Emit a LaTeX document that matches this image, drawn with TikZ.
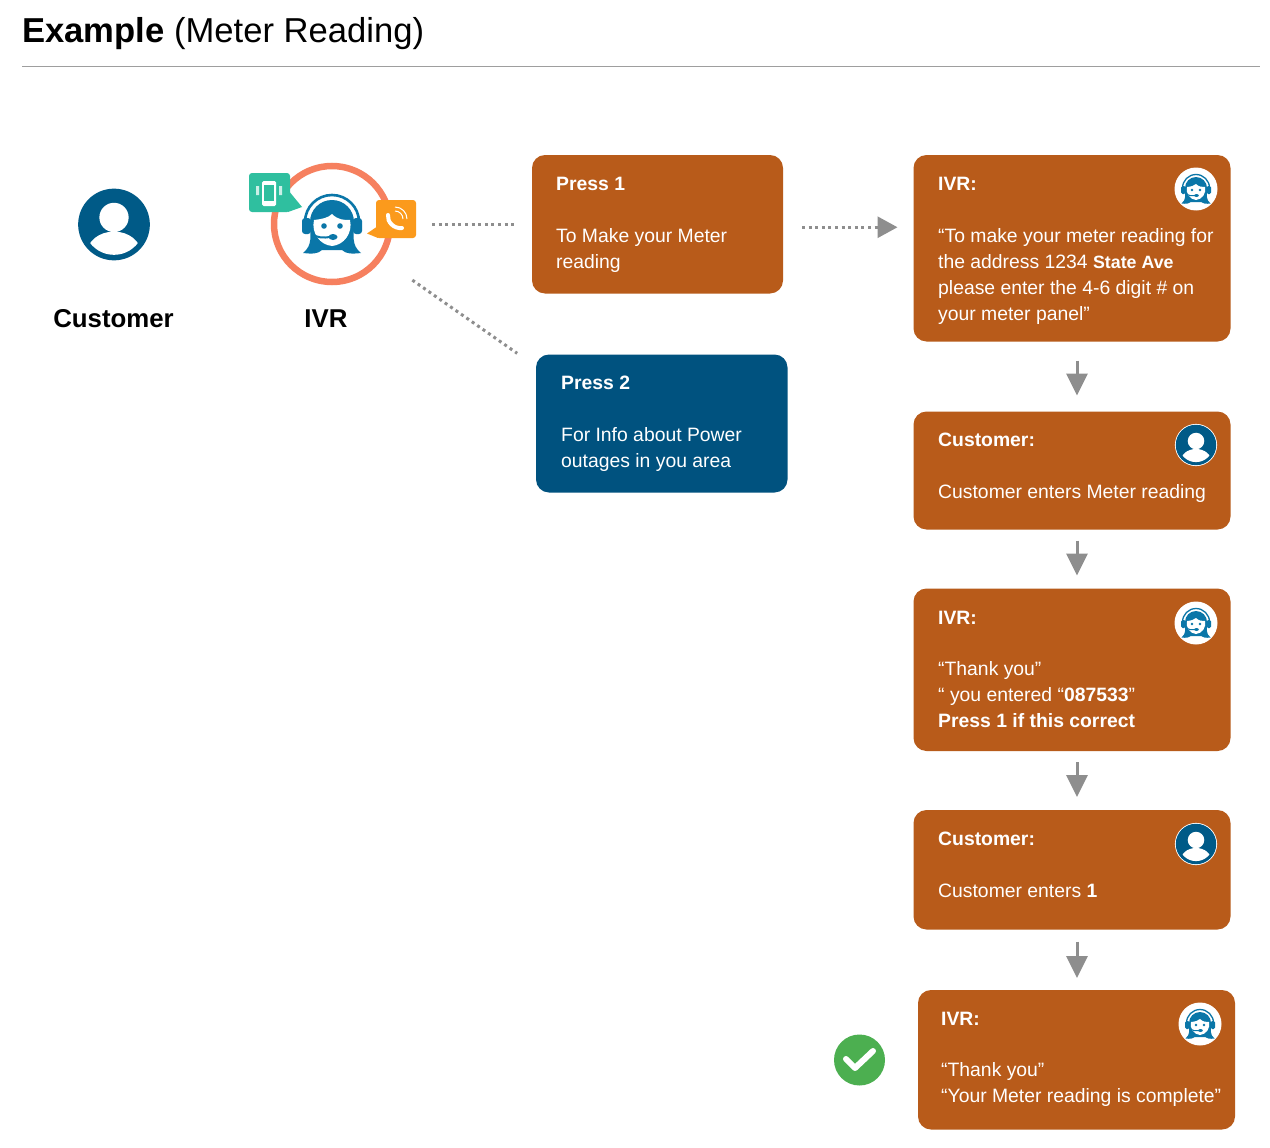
\documentclass[tikz,border=0pt]{standalone}
\usepackage{fontspec}
\setmainfont{Liberation Sans}
\usetikzlibrary{arrows.meta}
\definecolor{rust}{HTML}{B85B1A}
\definecolor{navy}{HTML}{00527F}
\definecolor{iconblue}{HTML}{0A76A8}
\definecolor{personblue}{HTML}{005A87}
\definecolor{ringcoral}{HTML}{F6805F}
\definecolor{tealbubble}{HTML}{2FBF9F}
\definecolor{amberbubble}{HTML}{FB9A1C}
\definecolor{flowgrey}{HTML}{8E8E8E}
\definecolor{okgreen}{HTML}{4CAF50}
\tikzset{
  flowbox/.style={rounded corners=13pt, fill=#1},
  boxtext/.style={anchor=north west, inner sep=0pt, align=left, text=white,
    font=\fontsize{19.35}{26}\selectfont},
  dotline/.style={draw=flowgrey, line width=3pt, dash pattern=on 3pt off 3.6pt},
  flowarrow/.style={draw=flowgrey, line width=3pt, -{Triangle[width=21pt,length=22pt]}},
  dotarrow/.style={dotline, -{Triangle[width=21pt,length=20pt,fill=flowgrey,sep=0pt]}},
  pics/personicon/.style={code={
    \begin{scope}[scale=#1]
      \fill[white] (0,0) circle (37);
      \fill[personblue] (0,0) circle (35.5);
      \begin{scope}
        \clip (0,0) circle (30);
        \fill[white] (0,-7) circle (14.5);
        \fill[white] (0,29) ellipse (27 and 22);
      \end{scope}
    \end{scope}
  }},
  pics/agenticon/.style={code={
    \begin{scope}[scale=#1]
      % headband
      \draw[iconblue, line width=#1*2.6pt] (-27,-2) arc (180:360:27);
      % hair with flared ends
      \fill[iconblue] (-22,-2) arc (180:360:22) .. controls (22,12) and (19,21) .. (29,29)
        .. controls (20,30) and (14,30) .. (10,26) -- (-10,26)
        .. controls (-14,30) and (-20,30) .. (-29,29)
        .. controls (-19,21) and (-22,12) .. (-22,-2) -- cycle;
      % face
      \fill[white] (0,-10) .. controls (6,-4) and (12,-4) .. (18,-4)
        .. controls (21,9) and (12,21) .. (0,22)
        .. controls (-12,21) and (-21,9) .. (-18,-4)
        .. controls (-10,-5) and (-4,-6) .. (0,-10) -- cycle;
      % eyes
      \fill[iconblue] (-8,2) circle (2.8) (8,2) circle (2.8);
      % ear cups
      \fill[iconblue, rounded corners=#1*3pt] (-30,-6) rectangle (-21,10);
      \fill[iconblue, rounded corners=#1*3pt] (21,-6) rectangle (30,10);
      % microphone boom
      \draw[iconblue, line width=#1*2pt] (-20,10) .. controls (-15,14) and (-8,14) .. (-2,13);
      \fill[iconblue] (1,13) ellipse (4.5 and 3);
    \end{scope}
  }}
}
\begin{document}
\begin{tikzpicture}[x=1pt,y=-1pt]
\useasboundingbox (0,0) rectangle (1270,1148);
\fill[white] (0,0) rectangle (1270,1148);

% heading
\node[anchor=base west, inner sep=0pt, font=\fontsize{34.6}{40}\selectfont] (heading) at (22,43)
  {\textbf{Example} (Meter Reading)};
\draw[draw=black!38, line width=1pt] (22,66.5) -- (1260,66.5);

% customer actor
\pic at (114,224.5) {personicon=1.01};
\node[anchor=base, inner sep=0pt, font=\bfseries\fontsize{25.8}{30}\selectfont] (customerlabel) at (113.5,327) {Customer};

% IVR actor: ring, agent and the two speech bubbles
\node[circle, draw=ringcoral, line width=6.5pt, fill=white, minimum size=116pt, inner sep=0pt, outer sep=0pt] (ivrring) at (332,224) {};
\pic at (332,224) {agenticon=1};
\fill[tealbubble, rounded corners=3pt] (249,173) rectangle (290,212);
\fill[tealbubble] (288,190) -- (302,207) -- (288,212) -- cycle;
\fill[white, rounded corners=1.5pt] (262,181) rectangle (276,206);
\fill[tealbubble] (264,184.5) rectangle (274,201);
\fill[white!75!tealbubble] (256,186) rectangle (259,195) (279,186) rectangle (282,195);
\fill[amberbubble, rounded corners=3pt] (376,200) rectangle (416,238);
\fill[amberbubble] (378,226) -- (367,233.5) -- (378,238) -- cycle;
\draw[white, line width=4pt, line cap=round] (388,215) .. controls (387,222) and (394,229) .. (402,228);
\draw[white, line width=1pt] (395,211) arc (-90:0:8) (395,207) arc (-90:0:12);
\node[anchor=base, inner sep=0pt, font=\bfseries\fontsize{25.8}{30}\selectfont] (ivrlabel) at (326,327) {IVR};

% menu options
\path[flowbox=rust] (532,155) rectangle (783,293.5);
\node[minimum width=251pt, minimum height=138.5pt, inner sep=0pt, outer sep=0pt] (press1) at (657.5,224.25) {};
\node[boxtext] (press1text) at (556,177) {\textbf{Press 1}\\[26pt]To Make your Meter\\reading};

\path[flowbox=navy] (536,354.5) rectangle (787.5,492.5);
\node[minimum width=251.5pt, minimum height=138pt, inner sep=0pt, outer sep=0pt] (press2) at (661.75,423.5) {};
\node[boxtext] (press2text) at (561,376) {\textbf{Press 2}\\[26pt]For Info about Power\\outages in you area};

% call flow after pressing 1
\path[flowbox=rust] (913.5,155) rectangle (1230.5,341.5);
\node[minimum width=317pt, minimum height=186.5pt, inner sep=0pt, outer sep=0pt] (ivra) at (1072,248.25) {};
\node[boxtext] (ivratext) at (938,177) {\textbf{IVR:}\\[26pt]“To make your meter reading for\\the address 1234 {\fontsize{17.8}{26}\selectfont\textbf{State Ave}}\\please enter the 4-6 digit \# on\\your meter panel”};

\path[flowbox=rust] (913.5,411.5) rectangle (1230.5,529.5);
\node[minimum width=317pt, minimum height=118pt, inner sep=0pt, outer sep=0pt] (custa) at (1072,470.5) {};
\node[boxtext] (custatext) at (938,433) {\textbf{Customer:}\\[25.5pt]Customer enters Meter reading};

\path[flowbox=rust] (913.5,588.5) rectangle (1230.5,751);
\node[minimum width=317pt, minimum height=162.5pt, inner sep=0pt, outer sep=0pt] (ivrb) at (1072,669.75) {};
\node[boxtext] (ivrbtext) at (938,611) {\textbf{IVR:}\\[25pt]“Thank you”\\“ you entered “\textbf{087533}”\\\textbf{Press 1 if this correct}};

\path[flowbox=rust] (913.5,810) rectangle (1230.5,929.5);
\node[minimum width=317pt, minimum height=119.5pt, inner sep=0pt, outer sep=0pt] (custb) at (1072,869.75) {};
\node[boxtext] (custbtext) at (938,832) {\textbf{Customer:}\\[26pt]Customer enters \textbf{1}};

\path[flowbox=rust] (918,990) rectangle (1235,1129.5);
\node[minimum width=317pt, minimum height=139.5pt, inner sep=0pt, outer sep=0pt] (ivrc) at (1076.5,1059.75) {};
\node[boxtext] (ivrctext) at (941,1012) {\textbf{IVR:}\\[25pt]“Thank you”\\“Your Meter reading is complete”};

% avatars in the box corners
\foreach \cx/\cy in {1196/189, 1196/623, 1200/1024} {
  \fill[white] (\cx,\cy) circle (21.5);
  \pic at (\cx,\cy) {agenticon=0.5};
}
\foreach \cx/\cy in {1196/445, 1196/844} {
  \pic at (\cx,\cy) {personicon=0.57};
}

% completion tick
\node[circle, fill=okgreen, minimum size=51pt, inner sep=0pt, outer sep=0pt] (tick) at (859.5,1060) {};
\draw[white, line width=6pt, line cap=round, line join=round] (846,1059) -- (855,1068) -- (873,1051);

% connectors
\draw[dotline, shorten <=100pt, shorten >=18pt] (ivrring.center) -- (press1.west |- ivrring.center);
\draw[dotline, shorten <=98pt, shorten >=23pt] (ivrring.center) -- ([yshift=-12pt]press2.north west);
\draw[dotarrow, shorten <=19pt, shorten >=16pt] ([yshift=-3pt]press1.east) -- ([yshift=-3pt]press1.east -| ivra.west);
\draw[flowarrow, shorten <=19pt, shorten >=16pt] ([xshift=5pt]ivra.south) -- ([xshift=5pt]custa.north);
\draw[flowarrow, shorten <=11pt, shorten >=13pt] ([xshift=5pt]custa.south) -- ([xshift=5pt]ivrb.north);
\draw[flowarrow, shorten <=11pt, shorten >=13pt] ([xshift=5pt]ivrb.south) -- ([xshift=5pt]custb.north);
\draw[flowarrow, shorten <=12pt, shorten >=12pt] ([xshift=5pt]custb.south) -- ([xshift=0.5pt]ivrc.north);
\end{tikzpicture}
\end{document}
